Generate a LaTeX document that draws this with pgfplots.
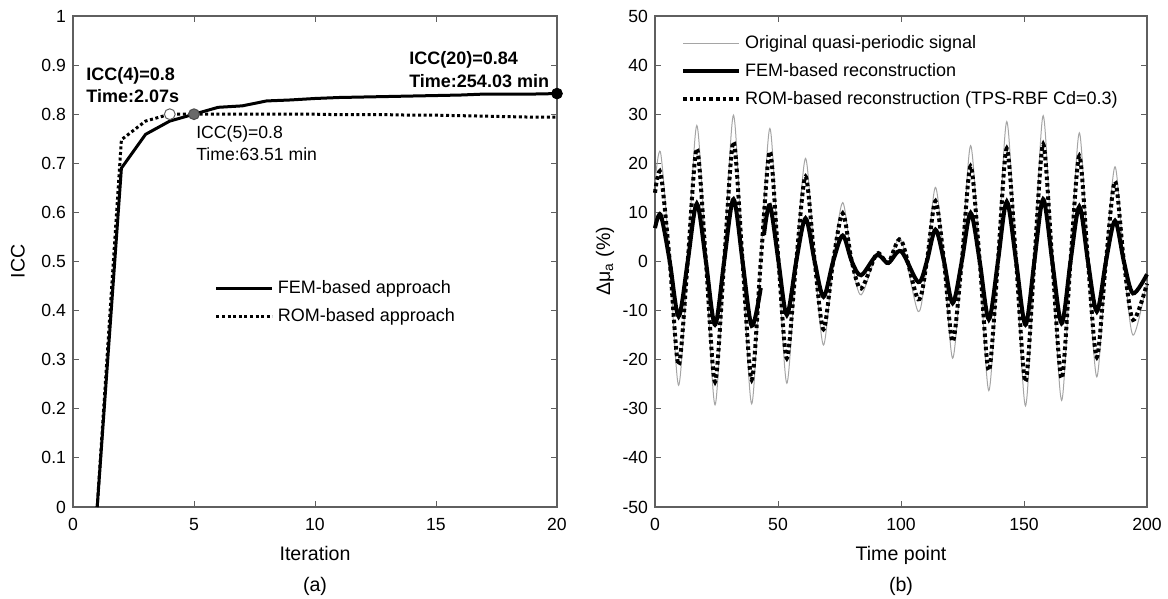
\documentclass[border=0pt]{standalone}
\usepackage{fontspec}
\setmainfont{Liberation Sans}
\usepackage{pgfplots}
\usepackage{pgfplotstable}
\pgfplotsset{compat=1.18}
\definecolor{axgray}{RGB}{95,95,95}
\definecolor{siggray}{RGB}{165,165,165}
\definecolor{markgray}{RGB}{105,105,105}

% time, original, ROM
\pgfplotstableread{
t orig rom
0 16 14
2.3 22.1 18.0
6 0 0
9.6 -25.2 -21.1
13.3 0 0
17 27.7 23.0
20.7 0 0
24.4 -29.2 -24.5
28.1 0 0
31.9 29.8 24.4
35.6 0 0
39.3 -29.0 -24.1
43 0 0
46.7 27.1 22.4
50.2 0 0
53.6 -24.8 -19.7
57.4 0 0
61.2 21.0 17.3
64.9 0 0
68.5 -17.0 -13.8
72.4 0 0
76.3 12.0 9.8
80 0 0
83.8 -6.8 -5.5
90.2 1.5 1.6
94.8 -0.3 -0.3
100 4.5 4.4
107 -10.2 -7.7
110.5 0 0
114 15.1 12.3
117.5 0 0
121 -19.7 -16.3
124.7 0 0
128.3 23.6 19.4
132 0 0
135.7 -26.3 -22.2
139.4 0 0
143 28.5 23.0
146.8 0 0
150.6 -29.4 -24.5
154.2 0 0
157.8 29.7 23.9
161.5 0 0
165.3 -28.3 -23.8
168.9 0 0
172.5 26.2 21.5
176 0 0
179.6 -23.5 -19.5
183.3 0 0
187 19.3 16.3
190.6 0 0
194.3 -15.0 -11.9
200 -4 -4.5
}\signal

\pgfplotstableread{
t fem
0 6.8
2.3 9.5
6 0
9.6 -11.2
13.3 0
17 11.8
20.7 0
24.4 -12.9
28.1 0
31.9 12.7
35.6 0
39.3 -13.1
43 -5.4
}\femA

\pgfplotstableread{
t fem
44.3 5.4
46.7 11.5
50.2 0
53.6 -10.9
57.4 0
61.2 8.8
64.9 0
68.5 -7.2
72.4 0
76.3 5.3
80 0
83.8 -2.8
90.2 1.3
94.8 -0.3
100 2.1
107 -4.2
110.5 0
114 6.5
117.5 0
121 -8.5
124.7 0
128.3 9.9
132 0
135.7 -11.8
139.4 0
143 12.2
146.8 0
150.6 -12.9
154.2 0
157.8 12.7
161.5 0
165.3 -12.6
168.9 0
172.5 11.2
176 0
179.6 -10.2
183.3 0
187 8.3
190.6 0
194.3 -6.5
200 -2.6
}\femB

\pgfplotsset{
  myax/.style={
    scale only axis,
    axis line style={axgray, line width=0.6pt},
    every tick/.style={axgray, line width=0.5pt},
    major tick length=3pt,
    tick align=inside,
    font=\fontsize{9}{11}\selectfont,
    tick label style={font=\fontsize{8.8}{10}\selectfont},
    xticklabel style={yshift=-2pt},
    /pgf/number format/assume math mode=true,
    legend cell align=left,
    legend image code/.code={\draw[#1] (0pt,0pt) -- (28pt,0pt);},
  }
}

\begin{document}
\begin{tikzpicture}
\useasboundingbox (0,0) rectangle (584pt,299.5pt);

% ---------------- (a) ----------------
\begin{axis}[myax,
  at={(36.5pt,46pt)}, anchor=south west,
  width=242pt, height=245.5pt,
  xmin=0, xmax=20, ymin=0, ymax=1,
  xtick={0,5,10,15,20},
  ytick={0,0.1,0.2,0.3,0.4,0.5,0.6,0.7,0.8,0.9,1},
  yticklabels={0,0.1,0.2,0.3,0.4,0.5,0.6,0.7,0.8,0.9,1},
  clip=false,
  legend style={draw=none, fill=none, at={(axis description cs:0.28,0.478)}, anchor=north west,
    font=\fontsize{9}{11}\selectfont, row sep=2pt},
]
\addplot[black, line width=1.5pt] coordinates {
(1,0) (2,0.69) (3,0.759) (4,0.786) (5,0.80) (6,0.814) (7,0.817) (8,0.827) (9,0.829) (10,0.832)
(11,0.834) (12,0.835) (13,0.836) (14,0.837) (15,0.838) (16,0.839) (17,0.841) (18,0.841) (19,0.841) (20,0.842)};
\addlegendentry{FEM-based approach}
\addplot[black, line width=1.5pt, dash pattern=on 1.5pt off 1.3pt] coordinates {
(1,0) (2,0.748) (3,0.786) (4,0.80) (5,0.80) (6,0.80) (7,0.80) (8,0.80) (9,0.80) (10,0.80)
(11,0.799) (12,0.799) (13,0.799) (14,0.798) (15,0.798) (16,0.797) (17,0.796) (18,0.795) (19,0.794) (20,0.794)};
\addlegendentry{ROM-based approach}
\addplot[only marks, mark=*, mark size=2.7pt, mark options={fill=white, draw=axgray, line width=0.5pt}, forget plot] coordinates {(4,0.80)};
\addplot[only marks, mark=*, mark size=2.7pt, mark options={fill=markgray, draw=black!70, line width=0.5pt}, forget plot] coordinates {(5,0.80)};
\addplot[only marks, mark=*, mark size=2.7pt, mark options={fill=black, draw=black}, forget plot] coordinates {(20,0.842)};

\node[anchor=north west, inner sep=0pt, align=left, font=\bfseries\fontsize{9}{10.8}\selectfont]
  at (axis cs:0.54,0.895) {ICC(4)=0.8\\Time:2.07s};
\node[anchor=north west, inner sep=0pt, align=left, font=\fontsize{8.8}{11.4}\selectfont]
  at (axis cs:5.08,0.778) {ICC(5)=0.8\\Time:63.51 min};
\node[anchor=north west, inner sep=0pt, align=left, font=\bfseries\fontsize{9}{11.2}\selectfont]
  at (axis cs:13.88,0.928) {ICC(20)=0.84\\Time:254.03 min};

\node[anchor=center, font=\fontsize{9.8}{11}\selectfont] at (axis description cs:0.5,0) [yshift=-23pt] {Iteration};
\node[anchor=center, font=\fontsize{9.8}{11}\selectfont] at (axis description cs:0.5,0) [yshift=-39.5pt] {(a)};
\node[xshift=-27.5pt, anchor=center, rotate=90, font=\fontsize{9.8}{11}\selectfont] at (axis description cs:0,0.5) {ICC};
\end{axis}

% ---------------- (b) ----------------
\begin{axis}[myax,
  at={(327.5pt,46pt)}, anchor=south west,
  width=246pt, height=245.5pt,
  xmin=0, xmax=200, ymin=-50, ymax=50,
  xtick={0,50,100,150,200},
  ytick={-50,-40,-30,-20,-10,0,10,20,30,40,50},
  clip=false,
  legend style={draw=none, fill=none, at={(axis description cs:0.04,0.977)}, anchor=north west,
    font=\fontsize{9}{11}\selectfont, row sep=1.8pt},
]
\addplot[siggray, line width=0.5pt, smooth] table[x=t, y=orig] {\signal};
\addlegendentry{Original quasi-periodic signal}
\addplot[black, line width=2pt, smooth] table[x=t, y=fem] {\femA};
\addlegendentry{FEM-based reconstruction}
\addplot[black, line width=2pt, dash pattern=on 1.8pt off 1.5pt, smooth] table[x=t, y=rom] {\signal};
\addlegendentry{ROM-based reconstruction (TPS-RBF Cd=0.3)}
\addplot[black, line width=2pt, smooth, forget plot] table[x=t, y=fem] {\femB};

\node[anchor=center, font=\fontsize{9.8}{11}\selectfont] at (axis description cs:0.5,0) [yshift=-24pt] {Time point};
\node[anchor=center, font=\fontsize{9.8}{11}\selectfont] at (axis description cs:0.5,0) [yshift=-39.5pt] {(b)};
\node[xshift=-25pt, anchor=center, rotate=90, font=\fontsize{9.8}{11}\selectfont] at (axis description cs:0,0.5) {Δμ\textsubscript{a} (\%)};
\end{axis}
\end{tikzpicture}
\end{document}
